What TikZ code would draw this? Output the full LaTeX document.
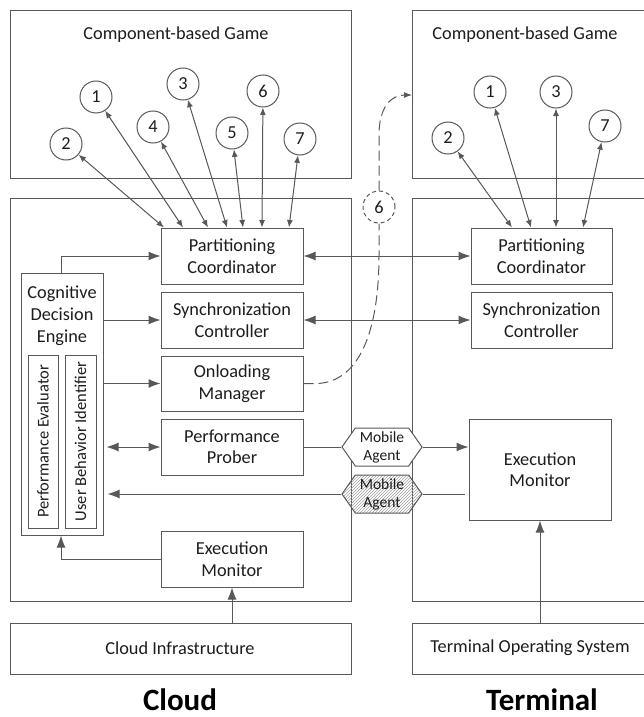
\documentclass[tikz,border=0pt]{standalone}
\usepackage{fontspec}
\setmainfont{Carlito}
\usetikzlibrary{arrows.meta,shapes.symbols,patterns}
\definecolor{linegray}{RGB}{88,88,88}
\definecolor{inkdark}{RGB}{28,28,28}

\begin{document}
\begin{tikzpicture}[x=1pt,y=-1pt,
  line width=1pt,
  every node/.style={text=inkdark},
  panel/.style={draw=linegray,anchor=north west,inner sep=0pt},
  block/.style={draw=linegray,inner sep=0pt,minimum width=142pt,minimum height=56pt,
    align=center,font=\fontsize{18.3}{21.5}\selectfont},
  caption/.style={inner sep=0pt,font=\fontsize{18.3}{21.5}\selectfont},
  bigcap/.style={inner sep=0pt,font=\fontsize{31}{34}\selectfont\bfseries,text=black},
  vtext/.style={inner sep=0pt,rotate=90,font=\fontsize{16.5}{19}\selectfont},
  numc/.style={draw=linegray,circle,minimum size=32pt,inner sep=0pt,
    font=\fontsize{18.3}{21}\selectfont},
  hexa/.style={draw=linegray,signal,signal to=east and west,signal pointer angle=110,
    minimum width=80pt,minimum height=38pt,inner sep=1pt,align=center,
    font=\fontsize{15.5}{18}\selectfont},
  conn/.style={draw=linegray},
  sarr/.style={conn,{Latex[length=7.5pt,width=6pt]}-{Latex[length=7.5pt,width=6pt]}},
  barr/.style={conn,-{Latex[length=12pt,width=9pt]}},
  bdarr/.style={conn,{Latex[length=12pt,width=9pt]}-{Latex[length=12pt,width=9pt]}},
  dashline/.style={conn,dash pattern=on 10pt off 5pt},
]
\useasboundingbox (0,0) rectangle (644,717);
\clip (0,0) rectangle (644,717);

% ---------------- Cloud side ----------------
\node[panel,minimum width=341pt,minimum height=168pt] (cgame) at (10,10) {};
\node[panel,minimum width=341pt,minimum height=403pt] (cmid) at (10,198) {};
\node[panel,minimum width=341pt,minimum height=51pt] (cinfra) at (10,623) {};
\node[caption] (cgtitle) at (176,35) {Component-based Game};
\node[caption] (cinfratext) at (180,648) {Cloud Infrastructure};
\node[bigcap] (cloudlbl) at (180,700) {Cloud};

\node[block] (cPC) at (232,256) {Partitioning\\Coordinator};
\node[block] (cSC) at (232,320) {Synchronization\\Controller};
\node[block,minimum height=55pt] (cOM) at (232,383.5) {Onloading\\Manager};
\node[block] (cPP) at (232,447) {Performance\\Prober};
\node[block] (cEM) at (232,559) {Execution\\Monitor};

% cognitive decision engine with its two sub-modules
\node[draw=linegray,inner sep=0pt,minimum width=82pt,minimum height=262pt] (CDE) at (62,404) {};
\node[caption,align=center,font=\fontsize{18.3}{22}\selectfont,anchor=north] (cdetext) at (62,285) {Cognitive\\Decision\\Engine};
\node[draw=linegray,inner sep=0pt,minimum width=30pt,minimum height=173pt] (PE) at (43,441.5) {};
\node[draw=linegray,inner sep=0pt,minimum width=31pt,minimum height=173pt] (UBI) at (80.5,441.5) {};
\node[vtext] (petext) at (PE) {Performance Evaluator};
\node[vtext] (ubitext) at (UBI) {User Behavior Identifier};
\coordinate (cdeport) at (61,404);

% numbered components of the cloud game
\node[numc] (c1) at (96,97) {1};
\node[numc] (c2) at (66,144) {2};
\node[numc] (c3) at (183,84) {3};
\node[numc] (c4) at (153,127) {4};
\node[numc] (c5) at (232,133) {5};
\node[numc] (c6) at (263,91) {6};
\node[numc] (c7) at (300,139) {7};

\draw[sarr] (c2) -- (164,0 |- cPC.north);
\draw[sarr] (c1) -- (183,0 |- cPC.north);
\draw[sarr] (c4) -- (208,0 |- cPC.north);
\draw[sarr] (c3) -- (227,0 |- cPC.north);
\draw[sarr] (c5) -- (243,0 |- cPC.north);
\draw[sarr] (c6) -- (262,0 |- cPC.north);
\draw[sarr] (c7) -- (289,0 |- cPC.north);

% ---------------- Terminal side ----------------
\node[panel,minimum width=260pt,minimum height=168pt] (tgame) at (412,10) {};
\node[panel,minimum width=260pt,minimum height=403pt] (tmid) at (412,198) {};
\node[panel,minimum width=260pt,minimum height=51pt] (tos) at (412,623) {};
\node[caption] (tgtitle) at (525,35) {Component-based Game};
\node[caption] (tostext) at (530,648) {Terminal Operating System};
\node[bigcap] (termlbl) at (542,700) {Terminal};

\node[block,minimum width=141pt] (tPC) at (541.5,256) {Partitioning\\Coordinator};
\node[block,minimum width=141pt] (tSC) at (541.5,320) {Synchronization\\Controller};
\node[block,minimum height=101pt] (tEM) at (540,469.5) {Execution\\Monitor};

\node[numc] (t1) at (490,92) {1};
\node[numc] (t2) at (448,138) {2};
\node[numc] (t3) at (556,92) {3};
\node[numc] (t7) at (605,126) {7};

\draw[sarr] (t2) -- (512,0 |- tPC.north);
\draw[sarr] (t1) -- (531,0 |- tPC.north);
\draw[sarr] (t3) -- (556,0 |- tPC.north);
\draw[sarr] (t7) -- (583,0 |- tPC.north);

% ---------------- mobile agents ----------------
\node[hexa,fill=white] (MA1) at (382,447) {Mobile\\Agent};
\node[hexa,pattern=north east lines,pattern color=gray!75] (MA2) at (382,494) {Mobile\\Agent};

% ---------------- connectors ----------------
\draw[barr] (cdeport |- CDE.north) |- (cPC.west);
\draw[barr] (CDE.east |- cSC.west) -- (cSC.west);
\draw[barr] (CDE.east |- cOM.west) -- (cOM.west);
\draw[bdarr] ([xshift=3pt]CDE.east |- cPP.west) -- (cPP.west);
\draw[barr] (cEM.west) -| (cdeport |- CDE.south);
\draw[barr] (cEM.south |- cinfra.north) -- (cEM.south);

\draw[bdarr] (cPC.east) -- (tPC.west);
\draw[bdarr] (cSC.east) -- (tSC.west);

\draw[conn] (cPP.east) -- (MA1.west);
\draw[barr] (MA1.east) -- (tEM.west |- MA1.east);
\draw[conn] ([xshift=-4pt]tEM.west |- MA2.east) -- (MA2.east);
\draw[barr] (MA2.west) -- ([xshift=4pt]CDE.east |- MA2.west);
\draw[barr] (tEM.south |- tos.north) -- (tEM.south);

% onloading of component 6 to the terminal
\node[numc,dash pattern=on 4pt off 3pt] (c6d) at (379,207) {6};
\draw[dashline] (cOM.east) -- (318,383.5) .. controls (360,381) and (379,330) .. (379,255) -- (c6d.south);
\draw[dashline,-{Latex[length=8pt,width=6pt]}] (c6d.north) -- (379,135)
  .. controls (379,106) and (392,95) .. (tgame.west |- 0,95);
\end{tikzpicture}
\end{document}
